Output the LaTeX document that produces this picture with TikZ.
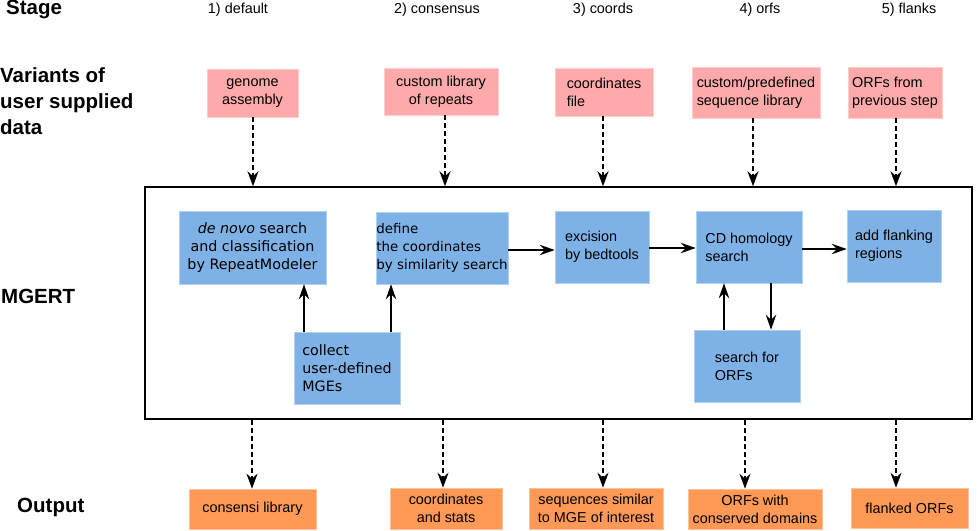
\documentclass[tikz,border=0pt]{standalone}
\usepackage{fontspec}
\setmainfont{Liberation Sans}
\newfontfamily\dejavu{DejaVu Sans}
\usetikzlibrary{arrows.meta}
\definecolor{pinkfill}{HTML}{FFAAAA}
\definecolor{bluefill}{HTML}{7EB2E6}
\definecolor{orangefill}{HTML}{FF9955}
\tikzset{
  txt/.style={font=\fontsize{14.4}{18}\selectfont},
  boxbase/.style={rectangle, inner sep=0pt, txt},
  inbox/.style={boxbase, fill=pinkfill, draw=pinkfill!60!white, line width=0.6pt},
  proc/.style={boxbase, fill=bluefill, draw=bluefill!60!white, line width=0.6pt},
  outbox/.style={boxbase, fill=orangefill, draw=orangefill!60!white, line width=0.6pt, align=center},
  biglab/.style={font=\fontsize{20.5}{26}\selectfont\bfseries, anchor=west, align=left, inner sep=0pt},
  stg/.style={txt, inner sep=0pt},
  darrow/.style={dash pattern=on 5pt off 3pt, line width=2.2pt, -{Stealth[length=15pt,width=11pt,inset=5pt]}},
  sarrow/.style={line width=1.3pt, -{Stealth[length=15pt,width=10.5pt,inset=5pt]}}
}
\begin{document}
\begin{tikzpicture}[x=1pt,y=-1pt]
\useasboundingbox (0,0) rectangle (977,530);
% left labels
\node[biglab] (lstage) at (6,10) {Stage};
\node[biglab] (lvar) at (0,101) {Variants of\\user supplied\\data};
\node[biglab] (lmgert) at (1,296) {MGERT};
\node[biglab] (lout) at (17,507) {Output};
% stage labels
\node[stg] (s1) at (238,10) {1) default};
\node[stg] (s2) at (437,10) {2) consensus};
\node[stg] (s3) at (603,10) {3) coords};
\node[stg] (s4) at (760,10) {4) orfs};
\node[stg] (s5) at (909,10) {5) flanks};
% input boxes
\node[inbox, minimum width=91, minimum height=48, align=center] (in1) at (252.5,93) {genome\\assembly};
\node[inbox, minimum width=114, minimum height=47, align=center] (in2) at (441,91.5) {custom library\\of repeats};
\node[inbox, minimum width=98, minimum height=48, align=left] (in3) at (604,92) {coordinates\\file};
\node[inbox, minimum width=128, minimum height=51, align=left] (in4) at (756,92.5) {custom/predefined\\sequence library};
\node[inbox, minimum width=94, minimum height=51, align=left] (in5) at (895,92.5) {ORFs from\\previous step};
% big box
\node[draw, line width=1.5pt, minimum width=827, minimum height=232, inner sep=0pt] (mgert) at (558.5,303) {};
% process boxes
\node[proc, minimum width=147, minimum height=73, align=center, font=\dejavu\fontsize{14.3}{18}\selectfont] (denovo) at (252.5,247.5) {\textit{de novo} search\\and classification\\by RepeatModeler};
\node[proc, minimum width=132, minimum height=72, align=left, font=\dejavu\fontsize{13.4}{18}\selectfont] (define) at (442,248) {define\\the coordinates\\by similarity search};
\node[proc, minimum width=106, minimum height=72, align=left, font=\dejavu\fontsize{14.3}{18}\selectfont] (collect) at (347,368) {collect\\user-defined\\MGEs};
\node[proc, minimum width=94, minimum height=72, align=left] (excis) at (602,247) {excision\\by bedtools};
\node[proc, minimum width=106, minimum height=72, align=left] (cdh) at (749,247) {CD homology\\search};
\node[proc, minimum width=94, minimum height=72, align=left] (flank) at (894,246) {add flanking\\regions};
\node[proc, minimum width=106, minimum height=72, align=left] (orfs) at (747,366) {search for\\ORFs};
% output boxes
\node[outbox, minimum width=127, minimum height=40] (o1) at (252.5,509) {consensi library};
\node[outbox, minimum width=112, minimum height=41] (o2) at (446,508.5) {coordinates\\and stats};
\node[outbox, minimum width=134, minimum height=41] (o3) at (596,508.5) {sequences similar\\to MGE of interest};
\node[outbox, minimum width=134, minimum height=40] (o4) at (755,509) {ORFs with\\conserved domains};
\node[outbox, minimum width=117, minimum height=40] (o5) at (909.5,508) {flanked ORFs};
% dashed input arrows
\draw[darrow] ([xshift=0.5pt]in1.south) -- ([xshift=0.5pt]in1.south |- mgert.north);
\draw[darrow] ([xshift=4pt]in2.south) -- ([xshift=4pt]in2.south |- mgert.north);
\draw[darrow] ([xshift=-1pt]in3.south) -- ([xshift=-1pt]in3.south |- mgert.north);
\draw[darrow] ([xshift=-3pt]in4.south) -- ([xshift=-3pt]in4.south |- mgert.north);
\draw[darrow] ([xshift=1pt]in5.south) -- ([xshift=1pt]in5.south |- mgert.north);
% dashed output arrows
\draw[darrow] ([xshift=-0.5pt]o1.north |- mgert.south) -- ([xshift=-0.5pt]o1.north);
\draw[darrow] ([xshift=-3pt]o2.north |- mgert.south) -- ([xshift=-3pt]o2.north);
\draw[darrow] ([xshift=7pt]o3.north |- mgert.south) -- ([xshift=7pt]o3.north);
\draw[darrow] ([xshift=-10pt]o4.north |- mgert.south) -- ([xshift=-10pt]o4.north);
\draw[darrow] ([xshift=-13.5pt]o5.north |- mgert.south) -- ([xshift=-13.5pt]o5.north);
% solid arrows
\draw[sarrow] ([xshift=-43pt]collect.north) -- ([xshift=-43pt]collect.north |- denovo.south);
\draw[sarrow] ([xshift=44pt]collect.north) -- ([xshift=44pt]collect.north |- define.south);
\draw[sarrow] ([yshift=-2pt]define.east) -- ([yshift=-2pt]define.east -| excis.west);
\draw[sarrow] ([yshift=-1pt]excis.east) -- ([yshift=-1pt]excis.east -| cdh.west);
\draw[sarrow] ([yshift=-2pt]cdh.east) -- ([yshift=-2pt]cdh.east -| flank.west);
\draw[sarrow] ([xshift=-23pt]orfs.north) -- ([xshift=-23pt]orfs.north |- cdh.south);
\draw[sarrow] ([xshift=24pt]orfs.north |- cdh.south) -- ([xshift=24pt]orfs.north);
\end{tikzpicture}
\end{document}
